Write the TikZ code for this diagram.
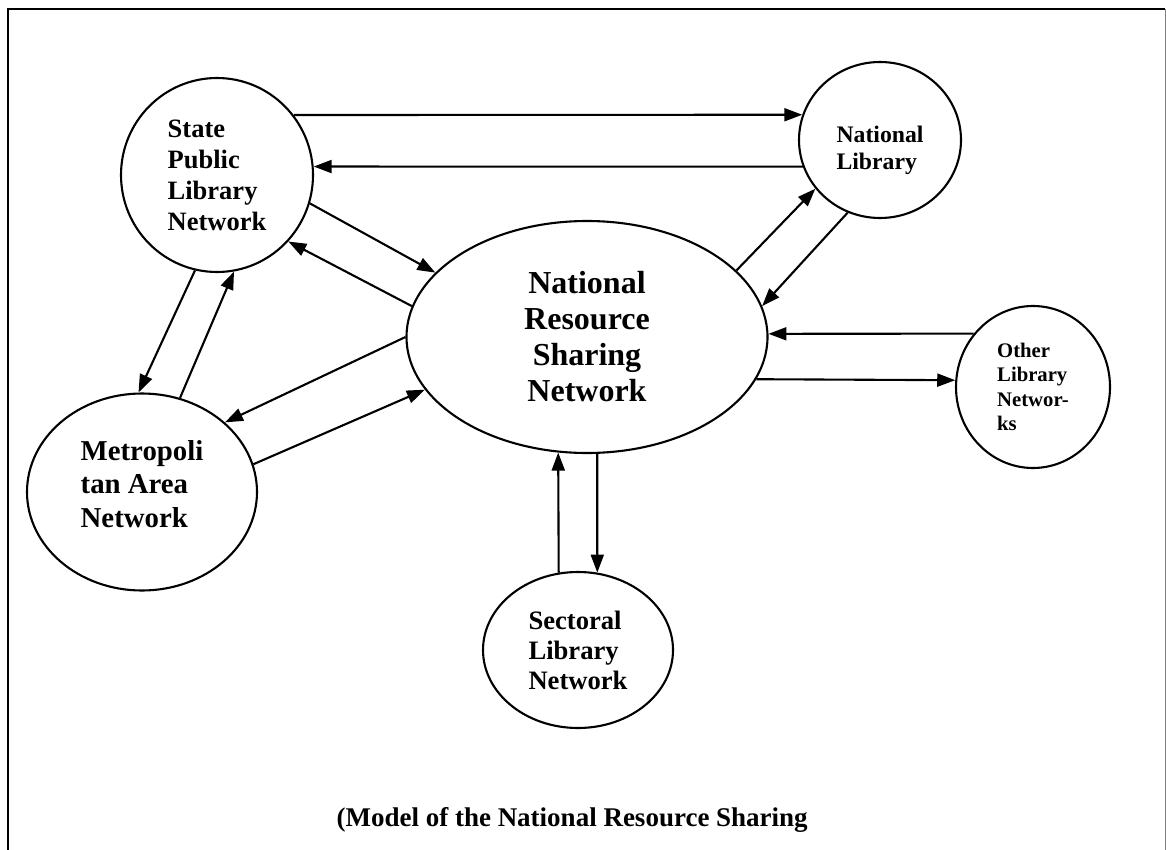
\documentclass[tikz,border=0pt]{standalone}
\usepackage{fontspec}
\setmainfont{Liberation Serif}
\usetikzlibrary{shapes.geometric, arrows.meta}
\tikzstyle{network} = [ellipse, draw=black, line width=2.1pt, inner sep=0pt, align=left, text=black]
\tikzstyle{arrow} = [line width=2.1pt, -{Triangle[length=18pt,width=13pt]}]

\begin{document}
\begin{tikzpicture}[x=1pt, y=-1pt]
	\useasboundingbox (0,0) rectangle (1166,850);
	\draw [line width=2.4pt] (8,850) -- (8,9) -- (1165,9);
	\draw [gray, line width=1pt] (1165,9) -- (1165,850);

	\node (nrsn) [network, align=center, minimum width=361pt, minimum height=232pt, font=\fontsize{32}{36}\selectfont\bfseries] at (587,337) {National\\Resource\\Sharing\\Network};
	\node (state) [network, minimum width=192pt, minimum height=194pt, font=\fontsize{26.5}{31}\selectfont\bfseries] at (217,175) {State\\Public\\Library\\Network};
	\node (natlib) [network, minimum width=162pt, minimum height=156pt, font=\fontsize{23.7}{27}\selectfont\bfseries] at (880,140) {\rule{0pt}{38pt}National\\Library};
	\node (other) [network, minimum width=154pt, minimum height=162pt, font=\fontsize{20.7}{24.5}\selectfont\bfseries] at (1033,387) {Other\\Library\\Networ-\\ks};
	\node (metro) [network, minimum width=230pt, minimum height=197pt, font=\fontsize{28.8}{33.5}\selectfont\bfseries] at (142,492) {Metropoli\\tan Area\\Network\rule[-16pt]{0pt}{16pt}};
	\node (sect) [network, minimum width=190pt, minimum height=156pt, font=\fontsize{26.6}{30}\selectfont\bfseries] at (578,650) {Sectoral\\Library\\Network};
	\node (caption) [anchor=base west, font=\fontsize{27}{33}\selectfont\bfseries] at (333,826) {(Model of the National Resource Sharing};

	\draw [arrow] (state.38) -- (natlib.162);
	\draw [arrow] (natlib.199) -- (state.5);
	\draw [arrow] (state.343) -- (nrsn.157);
	\draw [arrow] (nrsn.170) -- (state.317);
	\draw [arrow] (state.257) -- (metro.92);
	\draw [arrow] (metro.68) -- (state.280);
	\draw [arrow] (nrsn.180) -- (metro.40);
	\draw [arrow] (metro.14) -- (nrsn.198);
	\draw [arrow] (nrsn.24) -- (natlib.217);
	\draw [arrow] (natlib.246) -- (nrsn.10);
	\draw [arrow] (other.138) -- (nrsn.1);
	\draw [arrow] (nrsn.346) -- (other.175);
	\draw [arrow] (sect.104) -- (nrsn.256);
	\draw [arrow] (nrsn.275) -- (sect.76);
\end{tikzpicture}
\end{document}
